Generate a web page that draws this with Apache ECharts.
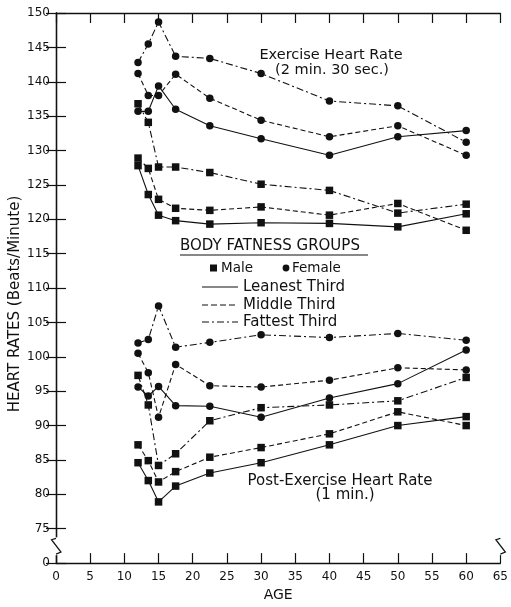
<!DOCTYPE html>
<html>
<head>
<meta charset="utf-8">
<script src="https://cdn.jsdelivr.net/npm/echarts@6/dist/echarts.min.js"></script>
<style>html,body{margin:0;padding:0;background:#fff}#c{width:511px;height:607px}</style>
</head>
<body>
<div id="c"></div>
<script>
// ---- data ----
const ages = [12, 13.5, 15, 17.5, 22.5, 30, 40, 50, 60];
const xTicks = [0, 5, 10, 15, 20, 25, 30, 35, 40, 45, 50, 55, 60, 65];
const yTicks = [0, 75, 80, 85, 90, 95, 100, 105, 110, 115, 120, 125, 130, 135, 140, 145, 150];

// Exercise heart rate (2 min. 30 sec.)
const exFemaleLean = [135.7, 135.7, 139.4, 136.0, 133.6, 131.7, 129.3, 132.0, 132.9];
const exFemaleMid  = [141.2, 138.0, 138.0, 141.1, 137.6, 134.4, 132.0, 133.6, 129.3];
const exFemaleFat  = [142.8, 145.5, 148.7, 143.7, 143.4, 141.2, 137.2, 136.5, 131.2];
const exMaleLean   = [127.8, 123.6, 120.6, 119.8, 119.3, 119.5, 119.4, 118.9, 120.8];
const exMaleMid    = [128.9, 127.4, 122.9, 121.6, 121.3, 121.8, 120.6, 122.3, 118.4];
const exMaleFat    = [136.8, 134.1, 127.6, 127.6, 126.8, 125.1, 124.2, 120.9, 122.2];

// Post-exercise heart rate (1 min.)
const pFemaleLean = [95.6, 94.3, 95.7, 92.9, 92.8, 91.2, 94.0, 96.1, 101.0];
const pFemaleMid  = [100.5, 97.7, 91.2, 98.9, 95.8, 95.6, 96.6, 98.4, 98.1];
const pFemaleFat  = [102.0, 102.5, 107.4, 101.4, 102.1, 103.2, 102.8, 103.4, 102.4];
const pMaleLean   = [84.6, 82.0, 78.9, 81.2, 83.1, 84.6, 87.2, 90.0, 91.3];
const pMaleMid    = [87.2, 84.9, 81.8, 83.3, 85.4, 86.8, 88.8, 92.0, 90.0];
const pMaleFat    = [97.3, 93.0, 84.2, 85.9, 90.7, 92.6, 93.0, 93.6, 97.0];

// ---- chart ----
const INK = '#111';
const FONT = 'DejaVu Sans';
const DASH = [5, 3];
const DASHDOT = [7, 3, 2, 3];
const AXIS_BREAK_VALUE = 70; // bottom of the broken axis stands for 0

function mk(name, vals, symbol, lineType) {
  return {
    type: 'line', name: name,
    data: ages.map((a, i) => [a, vals[i]]),
    symbol: symbol, symbolSize: symbol === 'rect' ? 7.5 : 7.5,
    lineStyle: { color: INK, width: 1.1, type: lineType },
    itemStyle: { color: INK },
    emphasis: { disabled: true },
    animation: false
  };
}

const series = [
  mk('Ex Female Leanest', exFemaleLean, 'circle', 'solid'),
  mk('Ex Female Middle', exFemaleMid, 'circle', DASH),
  mk('Ex Female Fattest', exFemaleFat, 'circle', DASHDOT),
  mk('Ex Male Leanest', exMaleLean, 'rect', 'solid'),
  mk('Ex Male Middle', exMaleMid, 'rect', DASH),
  mk('Ex Male Fattest', exMaleFat, 'rect', DASHDOT),
  mk('Post Female Leanest', pFemaleLean, 'circle', 'solid'),
  mk('Post Female Middle', pFemaleMid, 'circle', DASH),
  mk('Post Female Fattest', pFemaleFat, 'circle', DASHDOT),
  mk('Post Male Leanest', pMaleLean, 'rect', 'solid'),
  mk('Post Male Middle', pMaleMid, 'rect', DASH),
  mk('Post Male Fattest', pMaleFat, 'rect', DASHDOT)
];

const axisLine = { show: true, lineStyle: { color: INK, width: 1.3 } };
const tick = { show: true, inside: true, length: 10, lineStyle: { color: INK, width: 1.2 } };

const chart = echarts.init(document.getElementById('c'), null, { renderer: 'canvas' });
chart.setOption({
  backgroundColor: '#fff',
  animation: false,
  grid: { left: 56, right: 10, top: 13, bottom: 42 },
  xAxis: [
    {
      type: 'value', min: xTicks[0], max: xTicks[xTicks.length - 1], interval: 5, position: 'bottom',
      axisLine: axisLine, axisTick: tick, splitLine: { show: false },
      axisLabel: { margin: 8, fontSize: 12, color: INK, fontFamily: FONT },
      name: 'AGE', nameLocation: 'middle', nameGap: 23,
      nameTextStyle: { fontSize: 14, color: INK, fontFamily: FONT }
    },
    {
      type: 'value', min: xTicks[0], max: xTicks[xTicks.length - 1], interval: 5, position: 'top',
      axisLine: axisLine, axisTick: tick, splitLine: { show: false }, axisLabel: { show: false }
    }
  ],
  yAxis: [
    {
      type: 'value', min: AXIS_BREAK_VALUE, max: yTicks[yTicks.length - 1], interval: 5, position: 'left',
      axisLine: axisLine, axisTick: tick, splitLine: { show: false },
      axisLabel: {
        margin: 6, fontSize: 12, color: INK, fontFamily: FONT,
        formatter: v => (v === AXIS_BREAK_VALUE ? String(yTicks[0]) : String(v))
      }
    },
    {
      type: 'value', min: AXIS_BREAK_VALUE, max: yTicks[yTicks.length - 1], interval: 5, position: 'right',
      axisLine: axisLine, axisTick: tick, splitLine: { show: false }, axisLabel: { show: false }
    }
  ],
  series: series
});

// ---- annotations, legend, axis breaks ----
function txt(text, x, y, size, align) {
  return {
    type: 'text', x: x, y: y, z: 120, silent: true,
    style: { text: text, fill: INK, font: size + 'px "' + FONT + '"', textAlign: align || 'left', textVerticalAlign: 'middle', align: align || 'left', verticalAlign: 'middle' }
  };
}
function seg(x1, y1, x2, y2, dash) {
  return {
    type: 'line', z: 120, silent: true,
    shape: { x1: x1, y1: y1, x2: x2, y2: y2 },
    style: { stroke: INK, lineWidth: 1.2, lineDash: dash || null }
  };
}

const xL = chart.convertToPixel({ xAxisIndex: 0 }, xTicks[0]);
const xR = chart.convertToPixel({ xAxisIndex: 0 }, xTicks[xTicks.length - 1]);
const yB1 = chart.convertToPixel({ yAxisIndex: 0 }, 73.4);
const yB2 = chart.convertToPixel({ yAxisIndex: 0 }, 71.6);
const yB3 = chart.convertToPixel({ yAxisIndex: 0 }, 71.3);
const yB0 = chart.convertToPixel({ yAxisIndex: 0 }, 73.6);

function breakMark(x) {
  return [
    { type: 'rect', z: 110, silent: true, shape: { x: x - 2, y: yB0 - 1, width: 4, height: (yB3 - yB0) + 2 }, style: { fill: '#fff' } },
    {
      type: 'polyline', z: 120, silent: true,
      shape: { points: [[x, yB0], [x - 4.5, yB1], [x + 5, yB2], [x, yB3]] },
      style: { stroke: INK, lineWidth: 1.2, fill: null }
    }
  ];
}

const g = [];
g.push(...breakMark(xL), ...breakMark(xR));

// y axis title
g.push({
  type: 'text', x: 15, y: 304, rotation: Math.PI / 2, z: 120, silent: true,
  style: { text: 'HEART RATES (Beats/Minute)', fill: INK, font: '15px "' + FONT + '"', textAlign: 'center', textVerticalAlign: 'middle', align: 'center', verticalAlign: 'middle' }
});

// panel titles
g.push(txt('Exercise Heart Rate', 331, 55, 14.5, 'center'));
g.push(txt('(2 min. 30 sec.)', 332, 70, 14.5, 'center'));
g.push(txt('Post-Exercise Heart Rate', 340, 481, 15, 'center'));
g.push(txt('(1 min.)', 345, 495, 15, 'center'));

// legend
g.push(txt('BODY FATNESS GROUPS', 180, 246, 15, 'left'));
g.push(seg(180, 255, 368, 255));
g.push({ type: 'rect', z: 120, silent: true, shape: { x: 210, y: 264.5, width: 7, height: 7 }, style: { fill: INK } });
g.push(txt('Male', 221, 268, 13.5, 'left'));
g.push({ type: 'circle', z: 120, silent: true, shape: { cx: 286, cy: 268, r: 3.4 }, style: { fill: INK } });
g.push(txt('Female', 292, 268, 13.5, 'left'));
g.push(seg(202, 287, 238, 287));
g.push(txt('Leanest Third', 243, 287, 15, 'left'));
g.push(seg(202, 305, 238, 305, [6, 3]));
g.push(txt('Middle Third', 243, 305, 15, 'left'));
g.push(seg(202, 322, 238, 322, [7, 3, 2, 3]));
g.push(txt('Fattest Third', 243, 322, 15, 'left'));

chart.setOption({ graphic: { elements: g } });
</script>
</body>
</html>
